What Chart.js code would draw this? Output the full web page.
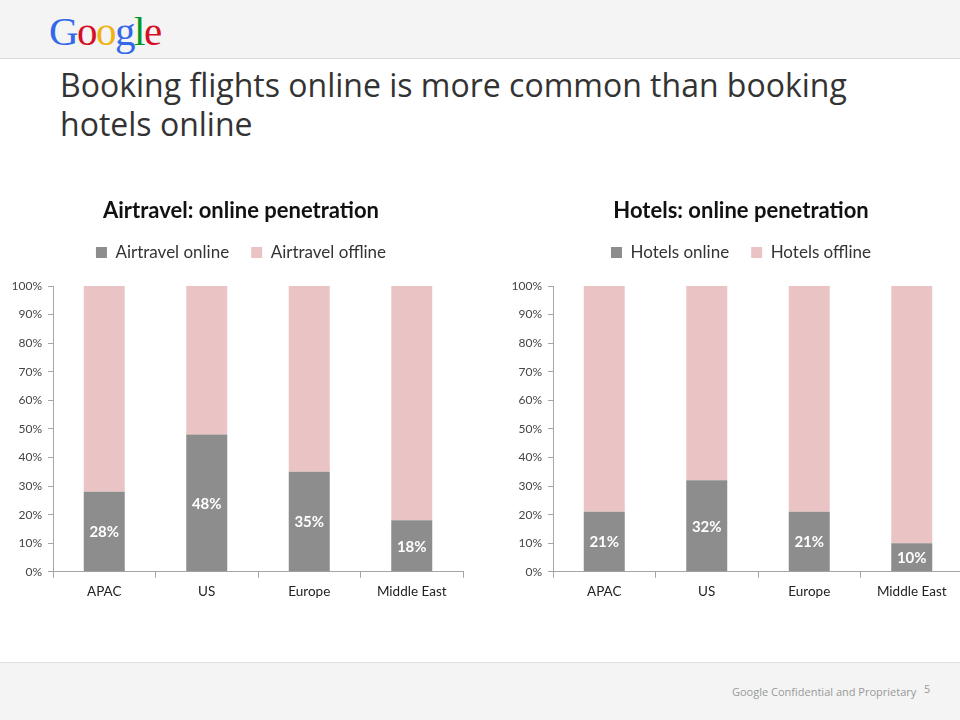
<!DOCTYPE html>
<html>
<head>
<meta charset="utf-8">
<script src="https://cdn.jsdelivr.net/npm/chart.js@4/dist/chart.umd.min.js"></script>
<style>
  body { margin: 0; width: 960px; height: 720px; background: #fff; position: relative; overflow: hidden; font-family: "Open Sans", sans-serif; }
  .header { position: absolute; left: 0; top: 0; width: 960px; height: 58px; background: #f4f4f4; border-bottom: 1px solid #d9d9d9; }
  .logo { position: absolute; left: 49px; top: 7px; font-family: "Liberation Serif", serif; font-size: 41px; letter-spacing: -1.5px; }
  .title { position: absolute; left: 60px; top: 65px; font-size: 32px; line-height: 39px; color: #333; white-space: nowrap; }
  .footer { position: absolute; left: 0; top: 662px; width: 960px; height: 58px; background: #f4f4f4; border-top: 1px solid #dedede; }
  .conf { position: absolute; left: 732px; top: 21px; font-size: 11px; color: #999; }
  .page { position: absolute; left: 924px; top: 18px; font-size: 11px; color: #999; }
  canvas { position: absolute; top: 190px; }
</style>
</head>
<body>
<div class="header">
  <div class="logo"><span style="color:#3369e8">G</span><span style="color:#d50f25">o</span><span style="color:#eeb211">o</span><span style="color:#3369e8">g</span><span style="color:#009925">l</span><span style="color:#d50f25">e</span></div>
</div>
<div class="title">Booking flights online is more common than booking<br>hotels online</div>
<canvas id="air" width="480" height="418" style="left:0"></canvas>
<canvas id="hotel" width="484" height="418" style="left:480px"></canvas>
<div class="footer">
  <div class="conf">Google Confidential and Proprietary</div>
  <div class="page">5</div>
</div>
<script>
const regions = ["APAC", "US", "Europe", "Middle East"];
const airOnline = [28, 48, 35, 18];
const airOffline = [72, 52, 65, 82];
const hotelOnline = [21, 32, 21, 10];
const hotelOffline = [79, 68, 79, 90];
const yTicks = [0, 10, 20, 30, 40, 50, 60, 70, 80, 90, 100];

const onlineColor = "#8d8d8d";
const offlineColor = "#eac4c4";
const axisColor = "#a6a6a6";

// white percentage in the middle of the online part
const barLabels = {
  id: "barLabels",
  afterLayout(chart) {
    // let the y tick labels run into the left padding without being clipped
    chart.scales.y.left = 0;
  },
  afterDatasetsDraw(chart) {
    const ctx = chart.ctx;
    const meta = chart.getDatasetMeta(0);
    ctx.save();
    ctx.fillStyle = "#fff";
    ctx.font = "bold 15px Lato";
    ctx.textAlign = "center";
    ctx.textBaseline = "middle";
    meta.data.forEach((bar, i) => {
      ctx.fillText(chart.data.datasets[0].data[i] + "%", bar.x, (bar.y + bar.base) / 2 + 1);
    });
    ctx.restore();
  }
};

function makeChart(id, title, names, online, offline, padLeft, padRight, yWidth) {
  return new Chart(document.getElementById(id).getContext("2d"), {
    type: "bar",
    data: {
      labels: regions,
      datasets: [
        { label: names[0], data: online, backgroundColor: onlineColor },
        { label: names[1], data: offline, backgroundColor: offlineColor }
      ]
    },
    options: {
      responsive: false,
      animation: false,
      layout: { padding: { left: padLeft, right: padRight, top: 0, bottom: 2 } },
      datasets: { bar: { categoryPercentage: 1, barPercentage: 0.40 } },
      plugins: {
        title: {
          display: true, text: title, color: "#111",
          font: { family: "Lato", size: 22, weight: "bold", lineHeight: 1 },
          padding: { top: 10, bottom: 0 }
        },
        legend: {
          display: true,
          labels: { color: "#333", font: { family: "Lato", size: 17 }, boxWidth: 11, boxHeight: 11, padding: 22 }
        },
        tooltip: { enabled: false }
      },
      scales: {
        x: {
          stacked: true,
          grid: { offset: true, drawOnChartArea: false, tickLength: 6, color: axisColor },
          border: { color: axisColor },
          ticks: { color: "#222", font: { family: "Lato", size: 13.5 }, padding: 6 }
        },
        gap: {
          // empty band between the legend and the plot
          type: "category", position: "top", labels: [""],
          grid: { display: false }, border: { display: false }, ticks: { display: false },
          afterFit: s => { s.height = 15; }
        },
        y: {
          stacked: true, min: 0, max: 100,
          afterFit: s => { s.width = yWidth; },
          afterBuildTicks: s => { s.ticks = yTicks.map(v => ({ value: v })); },
          grid: { drawOnChartArea: false, tickLength: 5, color: axisColor },
          border: { color: axisColor },
          ticks: { color: "#444", font: { family: "Lato", size: 12 }, padding: 6, callback: v => v + "%" }
        }
      }
    },
    plugins: [barLabels]
  });
}

makeChart("air", "Airtravel: online penetration", ["Airtravel online", "Airtravel offline"], airOnline, airOffline, 19, 17, 34);
makeChart("hotel", "Hotels: online penetration", ["Hotels online", "Hotels offline"], hotelOnline, hotelOffline, 39, 1, 34);
</script>
</body>
</html>
